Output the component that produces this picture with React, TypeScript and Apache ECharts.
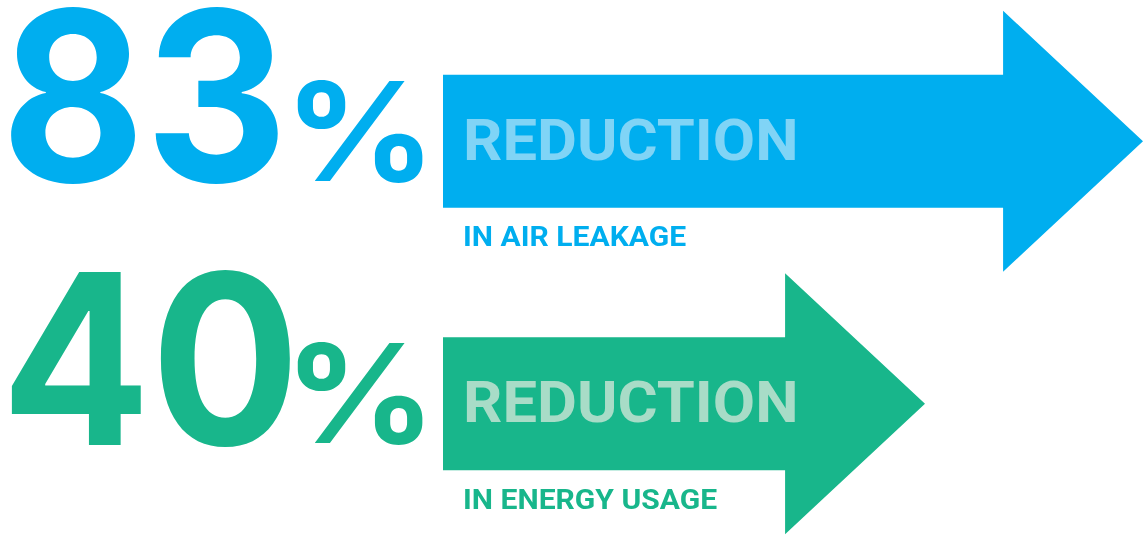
import React, { useEffect, useRef } from "react";
import * as echarts from "echarts";

const rows = ["air", "energy"];
const percentValues = [83, 40];
const headlineLabels = ["REDUCTION", "REDUCTION"];
const subLabels = ["IN AIR LEAKAGE", "IN ENERGY USAGE"];
const arrowLengths = [700, 482];
const arrowColors = ["#00AEEF", "#18B68B"];
const headlineColors = ["#80D4F6", "#A8DCC7"];

export default function App() {
  const ref = useRef<HTMLDivElement>(null);
  useEffect(() => {
    if (!ref.current) return;
    const chart = echarts.init(ref.current, undefined, { renderer: "svg" });
    const data = rows.map((_, i) => [arrowLengths[i], i]);
    chart.setOption({
      animation: false,
      grid: { left: 443, right: 0, top: 10, bottom: 1 },
      xAxis: { type: "value", min: 0, max: 704, show: false },
      yAxis: { type: "category", data: rows, inverse: true, show: false },
      series: [
        {
          type: "custom",
          clip: false,
          data,
          encode: { x: 0, y: 1 },
          renderItem: (params: any, api: any) => {
            const idx = params.dataIndex;
            const len = api.value(0);
            const row = api.value(1);
            const [x0, yc] = api.coord([0, row]);
            const [x1] = api.coord([len, row]);
            const band = api.size([0, 1])[1];
            const hh = band * 0.497;
            const bh = band * 0.2533;
            const hl = band * 0.533;
            const color = arrowColors[idx];
            return {
              type: "group",
              children: [
                {
                  type: "polygon",
                  shape: {
                    points: [
                      [x0, yc - bh],
                      [x1 - hl, yc - bh],
                      [x1 - hl, yc - hh],
                      [x1, yc],
                      [x1 - hl, yc + hh],
                      [x1 - hl, yc + bh],
                      [x0, yc + bh],
                    ],
                  },
                  style: { fill: color },
                },
                {
                  type: "text",
                  x: x0 + 20,
                  y: yc - 1,
                  scaleX: 1.06,
                  style: {
                    text: headlineLabels[idx],
                    fill: headlineColors[idx],
                    fontFamily: "Roboto",
                    fontWeight: "bold",
                    fontSize: 58,
                    align: "left",
                    verticalAlign: "middle",
                  },
                },
                {
                  type: "text",
                  x: x0 + 20,
                  y: yc + bh + 29,
                  scaleX: 1.075,
                  style: {
                    text: subLabels[idx],
                    fill: color,
                    fontFamily: "Roboto",
                    fontWeight: "bold",
                    fontSize: 28,
                    align: "left",
                    verticalAlign: "middle",
                  },
                },
                {
                  type: "text",
                  x: x0 - 442,
                  y: yc - 46,
                  scaleX: 0.93,
                  style: {
                    text: String(percentValues[idx]),
                    fill: color,
                    fontFamily: "Inter",
                    fontWeight: "bold",
                    fontSize: 238,
                    lineHeight: 178,
                    align: "left",
                    verticalAlign: "middle",
                  },
                },
                {
                  type: "text",
                  x: x0 - 7,
                  y: yc - 10,
                  scaleX: 1.09,
                  style: {
                    text: "%",
                    fill: color,
                    fontFamily: "Inter",
                    fontWeight: "bold",
                    fontSize: 137,
                    lineHeight: 104,
                    align: "right",
                    verticalAlign: "middle",
                  },
                },
              ],
            };
          },
        },
      ],
    });
    return () => chart.dispose();
  }, []);
  return (
    <div
      ref={ref}
      style={{ position: "fixed", left: 0, top: 0, width: 1147, height: 536 }}
    />
  );
}
